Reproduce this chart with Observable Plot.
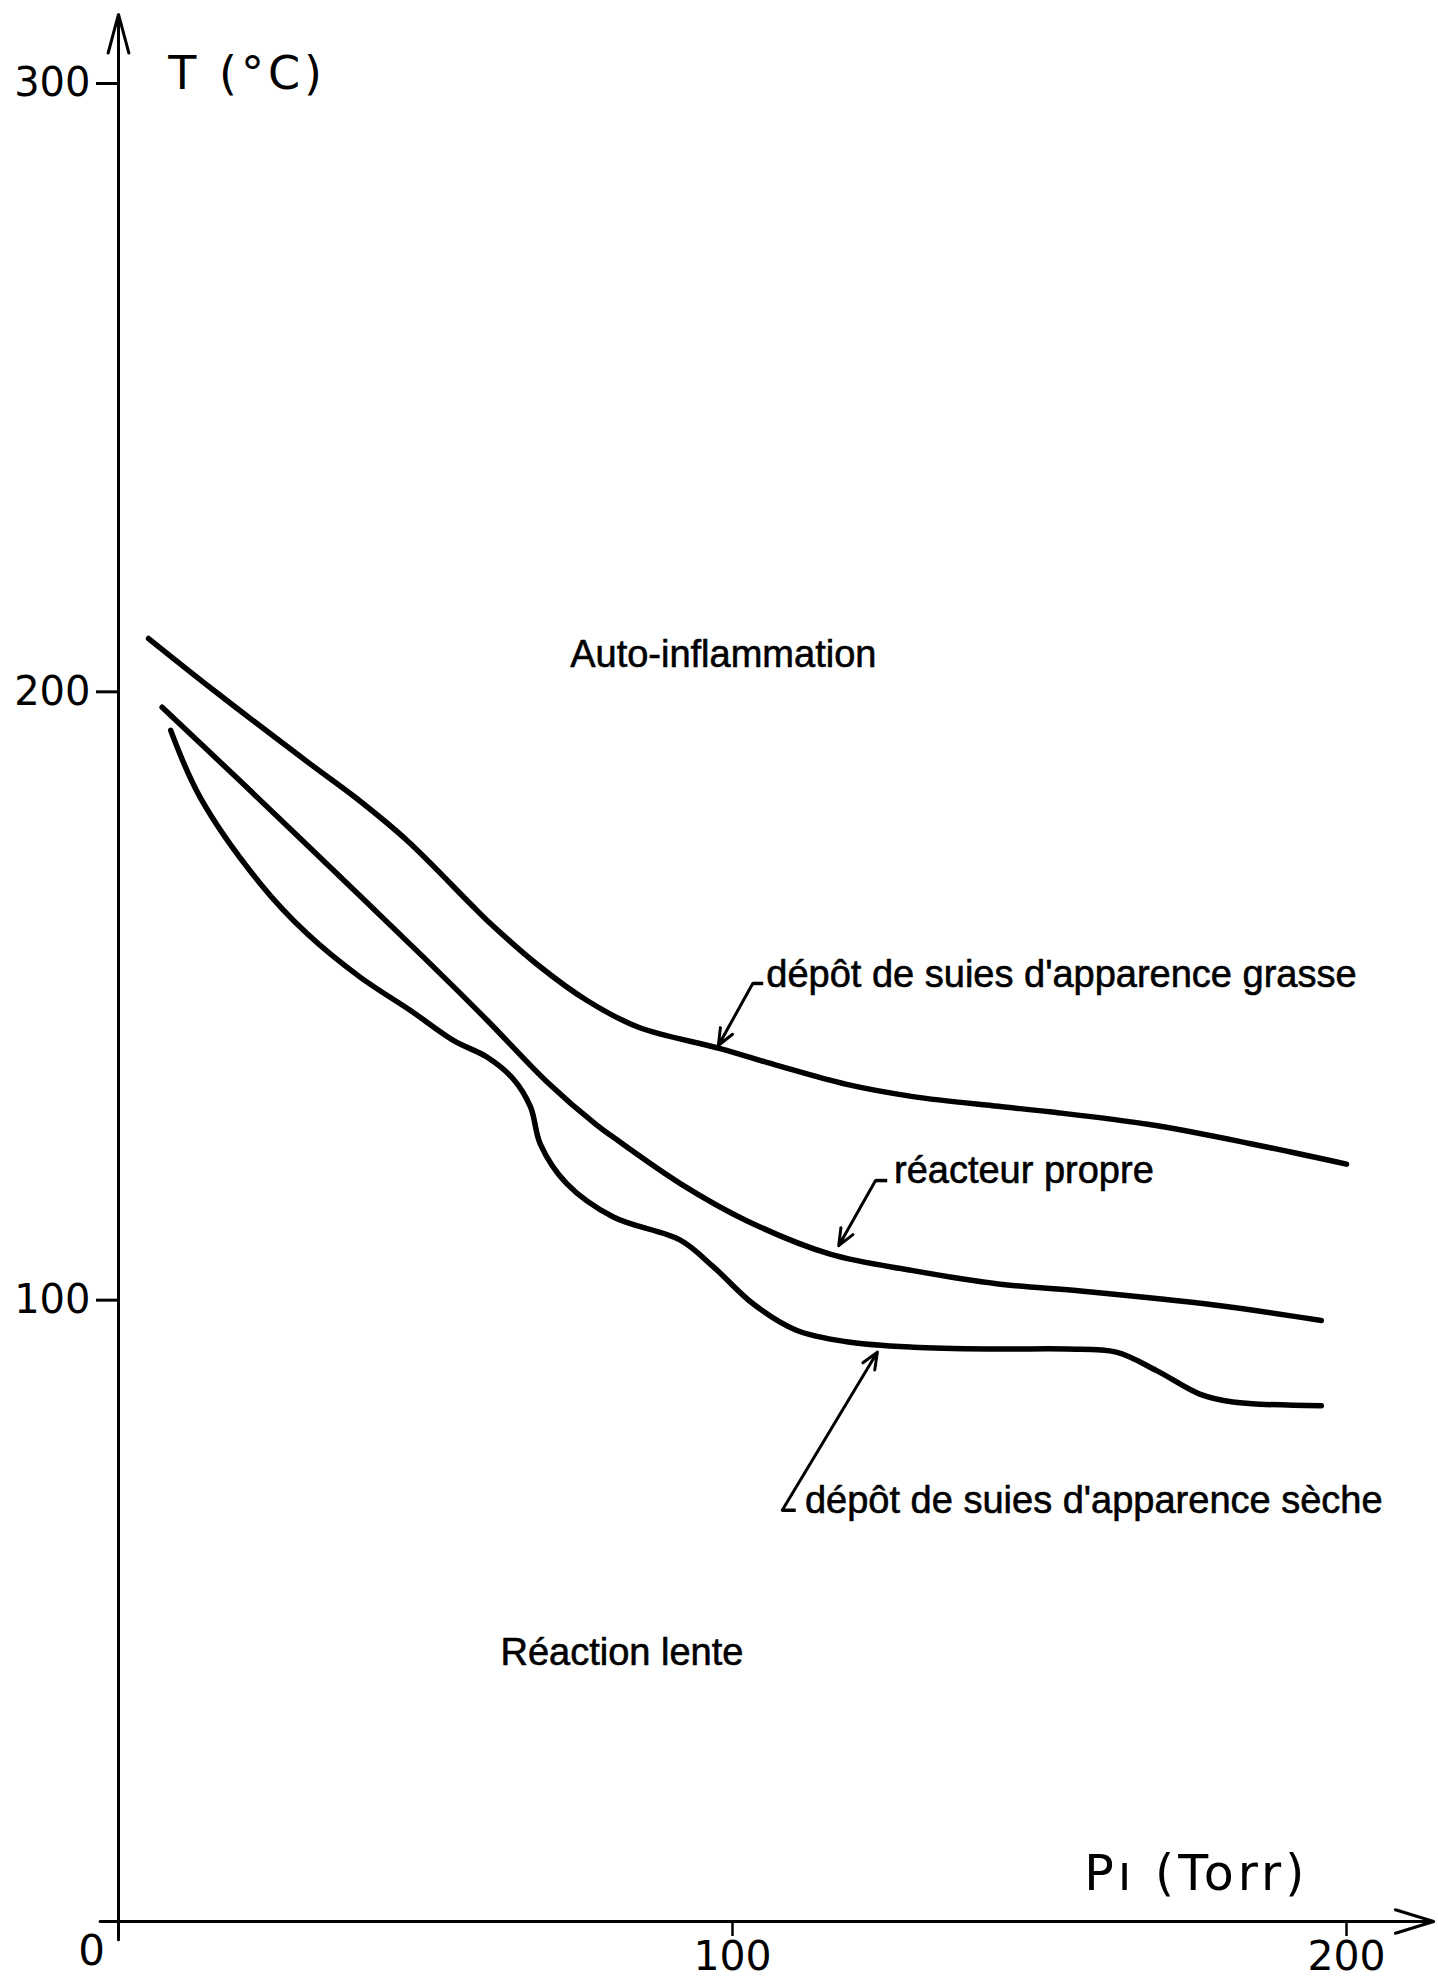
<!DOCTYPE html>
<html>
<head>
<meta charset="utf-8">
<script src="https://cdn.jsdelivr.net/npm/d3@7"></script>
<script src="https://cdn.jsdelivr.net/npm/@observablehq/plot@0.6"></script>
<style>
html, body { margin: 0; padding: 0; background: #fff; }
#chart svg { display: block; }
</style>
</head>
<body>
<div id="chart"></div>
<script>
// ---- Data (P in Torr, T in °C) ----
const seriesNames = ["grasse", "propre", "seche"];

const pGrasse = [4.9, 15.5, 31.2, 38.8, 47.0, 57.3, 60.0, 68.1, 76.3, 84.7, 98.0, 107.7, 118.6, 129.4, 143.3, 151.7, 167.9, 184.2, 200.0];
const tGrasse = [210.9, 202.4, 190.3, 184.6, 177.7, 167.3, 164.6, 157.4, 151.4, 147.0, 143.5, 140.6, 137.6, 135.6, 134.0, 133.1, 131.0, 127.9, 124.5];

const pPropre = [7.1, 20.0, 35.0, 50.0, 60.0, 69.8, 77.9, 80.6, 91.5, 102.3, 115.9, 129.4, 143.3, 157.1, 178.8, 195.9];
const tPropre = [199.6, 187.3, 172.8, 158.2, 148.2, 138.0, 130.9, 128.9, 121.3, 115.2, 109.7, 107.0, 104.8, 103.6, 101.3, 98.8];

const pSeche = [8.5, 13.3, 23.1, 30.7, 39.4, 47.5, 54.6, 60.0, 64.3, 67.1, 68.7, 73.0, 80.6, 91.5, 96.9, 103.4, 110.4, 118.6, 129.4, 143.3, 154.4, 162.5, 169.0, 176.1, 181.5, 195.9];
const tSeche = [195.8, 184.8, 170.6, 162.4, 155.2, 149.8, 144.8, 142.1, 138.5, 133.9, 127.8, 121.3, 115.8, 112.0, 107.6, 101.5, 97.2, 95.3, 94.4, 94.1, 94.1, 93.6, 90.6, 86.7, 85.4, 84.8];

// Axis ticks
const xTicks = [100, 200];
const yTicks = [100, 200, 300];
const originLabel = ["0"];
const xTitle = ["Pı (Torr)"];
const yTitle = ["T (°C)"];

// Region labels
const regionLabels = ["Auto-inflammation", "Réaction lente"];
const regionP = [98.5, 82.0];
const regionT = [206.2, 42.2];

// Curve annotations (text anchor, leader tail, arrow tip) in data units
const annotLabels = ["dépôt de suies d'apparence grasse", "réacteur propre", "dépôt de suies d'apparence sèche"];
const annotTextP = [105.5, 126.3, 111.8];
const annotTextT = [153.6, 121.4, 67.1];
const annotTailP = [103.3, 123.3, 108.1];
const annotTailT = [154.2, 121.8, 67.6];
const annotDashP = [105.0, 125.2, 110.3];
const annotTipP = [97.7, 117.3, 123.6];
const annotTipT = [144.0, 111.1, 93.6];

// ---- Tables built from the arrays ----
const curves = [
  ...pGrasse.map((p, i) => ({series: seriesNames[0], P: p, T: tGrasse[i]})),
  ...pPropre.map((p, i) => ({series: seriesNames[1], P: p, T: tPropre[i]})),
  ...pSeche.map((p, i) => ({series: seriesNames[2], P: p, T: tSeche[i]}))
];
const regions = regionLabels.map((l, i) => ({label: l, P: regionP[i], T: regionT[i]}));
const annots = annotLabels.map((l, i) => ({
  label: l, textP: annotTextP[i], textT: annotTextT[i],
  tailP: annotTailP[i], tailT: annotTailT[i], dashP: annotDashP[i],
  tipP: annotTipP[i], tipT: annotTipT[i]
}));

const xMax = 200, yMax = 300;
const axisFont = "DejaVu Sans";
const textFont = "Liberation Sans, Arial, Helvetica, sans-serif";

const chart = Plot.plot({
  width: 1438,
  height: 1982,
  marginLeft: 118,
  marginRight: 92,
  marginTop: 96,
  marginBottom: 61,
  x: {domain: [0, xMax], axis: null},
  y: {domain: [0, yMax], axis: null},
  style: {background: "white", color: "black"},
  marks: [
    // axes with arrowheads
    Plot.arrow([xMax], {x1: -xMax * 0.015, x2: (d) => d * 1.071, y1: 0, y2: 0, stroke: "black", strokeWidth: 3, headLength: 20, headAngle: 34}),
    Plot.arrow([yMax], {x1: 0, x2: 0, y1: -yMax * 0.01, y2: (d) => d * 1.045, stroke: "black", strokeWidth: 3, headLength: 20, headAngle: 30}),
    Plot.axisY({ticks: yTicks, tickSize: 22, tickPadding: 6, strokeWidth: 3, fontSize: 40, fontFamily: axisFont, dy: -13}),
    Plot.axisX({ticks: xTicks, tickSize: 15, tickPadding: 4, strokeWidth: 2.5, fontSize: 41, fontFamily: axisFont}),
    Plot.text(originLabel, {x: 0, y: 0, text: (d) => d, dx: -27, dy: 14, lineAnchor: "top", textAnchor: "middle", fontSize: 42, fontFamily: axisFont}),
    Plot.text(yTitle, {x: 8.1, y: 301.3, text: (d) => d, textAnchor: "start", lineAnchor: "bottom", fontSize: 46, fontFamily: axisFont}),
    Plot.text(xTitle, {x: 157.3, y: 5.1, text: (d) => d, textAnchor: "start", lineAnchor: "bottom", fontSize: 49, fontFamily: axisFont}),
    // curves
    Plot.line(curves, {x: "P", y: "T", z: "series", curve: "catmull-rom", stroke: "black", strokeWidth: 5.5, strokeLinecap: "round", strokeLinejoin: "round"}),
    // region labels
    Plot.text(regions, {x: "P", y: "T", text: "label", textAnchor: "middle", lineAnchor: "bottom", fontSize: 38, fontFamily: textFont, fill: "black", stroke: "black", strokeWidth: 0.6}),
    // annotations
    Plot.text(annots, {x: "textP", y: "textT", text: "label", textAnchor: "start", lineAnchor: "bottom", fontSize: 38, fontFamily: textFont, fill: "black", stroke: "black", strokeWidth: 0.6}),
    Plot.link(annots, {x1: "tailP", y1: "tailT", x2: "dashP", y2: "tailT", stroke: "black", strokeWidth: 3.5}),
    Plot.arrow(annots, {x1: "tailP", y1: "tailT", x2: "tipP", y2: "tipT", stroke: "black", strokeWidth: 3, headLength: 9, headAngle: 45})
  ]
});

d3.select(chart).selectAll("text")
  .filter(function () { return this.textContent === yTitle[0] || this.textContent === xTitle[0]; })
  .attr("letter-spacing", "4px");

document.getElementById("chart").appendChild(chart);
</script>
</body>
</html>
